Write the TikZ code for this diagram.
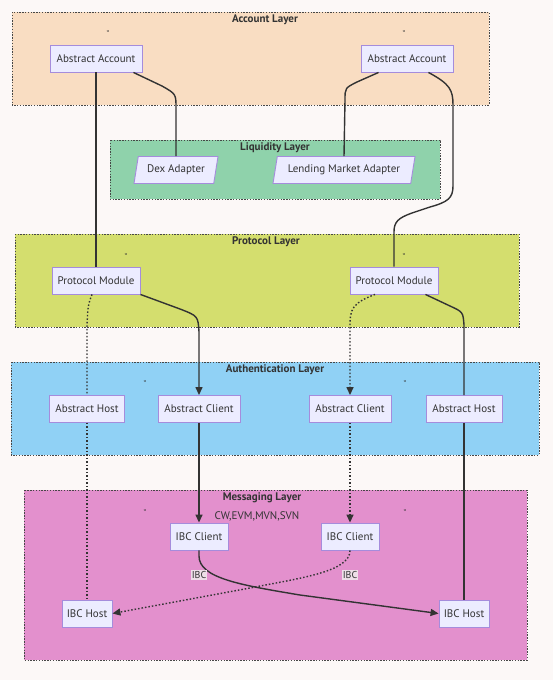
\documentclass[tikz,border=0pt]{standalone}
\usepackage{fontspec}
\setmainfont{PT Sans}
\usetikzlibrary{arrows.meta,shapes.geometric}
\definecolor{bgc}{RGB}{252,248,247}
\definecolor{accl}{RGB}{249,221,194}
\definecolor{liql}{RGB}{143,210,171}
\definecolor{prol}{RGB}{212,222,110}
\definecolor{autl}{RGB}{144,209,245}
\definecolor{msgl}{RGB}{227,144,205}
\definecolor{nfill}{RGB}{236,236,255}
\definecolor{nbord}{RGB}{165,140,220}
\definecolor{ink}{RGB}{51,51,51}
\definecolor{lblbg}{RGB}{238,222,232}
\tikzset{
  layer/.style={draw=ink!90, line width=1pt, dash pattern=on 1.4pt off 1.4pt},
  ltitle/.style={font=\fontsize{11}{13}\selectfont\bfseries, text=ink, inner sep=0pt},
  qmark/.style={font=\fontsize{8}{9}\selectfont, text=ink, inner sep=0pt},
  box/.style={draw=nbord, fill=nfill, line width=0.9pt, minimum height=27pt, inner sep=2pt, font=\fontsize{11}{13}\selectfont, text=ink},
  para/.style={box, trapezium, trapezium left angle=73, trapezium right angle=107, trapezium stretches body, inner xsep=3pt},
  conn/.style={draw=ink, line width=1.4pt},
  dconn/.style={draw=ink, line width=1.4pt, dash pattern=on 1.5pt off 2pt},
  arr/.style={-{Triangle[length=8pt,width=7pt]}},
  elabel/.style={fill=lblbg, inner sep=1pt, font=\fontsize{10}{11}\selectfont, text=ink},
}
\begin{document}
\begin{tikzpicture}[x=1pt,y=-1pt]
\useasboundingbox (0,0) rectangle (553,680);
\fill[bgc] (0,0) rectangle (553,680);
% layers
\path[layer, fill=accl] (12,12) rectangle (489,105);
\path[layer, fill=liql] (110,140) rectangle (440,199);
\path[layer, fill=prol] (15,234) rectangle (519,327);
\path[layer, fill=autl] (11,362) rectangle (539,455);
\path[layer, fill=msgl] (24,490) rectangle (527,660);
\node[ltitle] (t1) at (265,20) {Account Layer};
\node[ltitle] (t2) at (275,148) {Liquidity Layer};
\node[ltitle] (t3) at (266,242) {Protocol Layer};
\node[ltitle] (t4) at (275,370) {Authentication Layer};
\node[ltitle] (t5) at (262,498) {Messaging Layer};
\node[qmark] (q1) at (108,34) {"};
\node[qmark] (q2) at (404,34) {"};
\node[qmark] (q3) at (126,257) {"};
\node[qmark] (q4) at (404,257) {"};
\node[qmark] (q5) at (145,384) {"};
\node[qmark] (q6) at (405,384) {"};
\node[qmark] (q7) at (145,513) {"};
\node[qmark] (q8) at (405,513) {"};
\node[font=\fontsize{11}{13}\selectfont, text=ink, inner sep=0pt] (cw) at (257,516) {CW,EVM,MVN,SVN};
% nodes
\node[box, minimum width=92pt] (aa1) at (96,58.5) {Abstract Account};
\node[box, minimum width=92pt] (aa2) at (407,58.5) {Abstract Account};
\node[para, minimum width=84pt] (dex) at (176,170) {Dex Adapter};
\node[para, minimum width=142pt] (lma) at (344,170) {Lending Market Adapter};
\node[box, minimum width=88pt] (pm1) at (96,280.5) {Protocol Module};
\node[box, minimum width=88pt] (pm2) at (394,280.5) {Protocol Module};
\node[box, minimum width=75pt] (ah1) at (87,409) {Abstract Host};
\node[box, minimum width=82pt] (ac1) at (199,409) {Abstract Client};
\node[box, minimum width=82pt] (ac2) at (350,409) {Abstract Client};
\node[box, minimum width=76pt] (ah2) at (464,409) {Abstract Host};
\node[box, minimum width=58pt] (ic1) at (199,536.5) {IBC Client};
\node[box, minimum width=58pt] (ic2) at (350,536.5) {IBC Client};
\node[box, minimum width=50pt] (ih1) at (87,613.5) {IBC Host};
\node[box, minimum width=50pt] (ih2) at (464,613.5) {IBC Host};
% connectors
\draw[conn] (aa1.south) -- (pm1.north);
\draw[conn] ([xshift=-9pt]aa1.south east) -- (162,86) .. controls (176,94) .. (176,108) -- (dex.north);
\draw[conn] ([xshift=18pt]aa2.south west) -- (357,82) .. controls (345,88) .. (345,100) -- (lma.north);
\draw[conn] ([xshift=-25pt]aa2.south east) .. controls (450,84) and (453,90) .. (453,105) -- (453,186)
  .. controls (453,198) and (448,202) .. (430,207) -- (412,213) .. controls (398,218) and (394,222) .. (394,232) -- (pm2.north);
\draw[conn, arr] (pm1.south east) -- (180,309) .. controls (198,316) .. (199,332) -- (ac1.north);
\draw[dconn] ([xshift=-4pt]pm1.south) .. controls (88,305) .. (87,325) -- (ah1.north);
\draw[dconn] (ah1.south) -- (ih1.north);
\draw[dconn, arr] ([xshift=-19pt]pm2.south) .. controls (352,303) and (350,310) .. (350,325) -- (ac2.north);
\draw[conn] ([xshift=-13pt]pm2.south east) -- (450,306) .. controls (463,312) .. (464,325) -- (ah2.north);
\draw[conn] (ah2.south) -- (ih2.north);
\draw[conn, arr] (ac1.south) -- (ic1.north);
\draw[dconn, arr] (ac2.south) -- (ic2.north);
\draw[conn, arr] (ic1.south) -- (199,556) .. controls (199,578) and (240,585) .. (300,595) -- (ih2.west);
\draw[dconn, arr] (ic2.south) .. controls (350,572) and (300,578) .. (250,588) -- (ih1.east);
\node[elabel] (l1) at (199,575) {IBC};
\node[elabel] (l2) at (350,575) {IBC};
\end{tikzpicture}
\end{document}
